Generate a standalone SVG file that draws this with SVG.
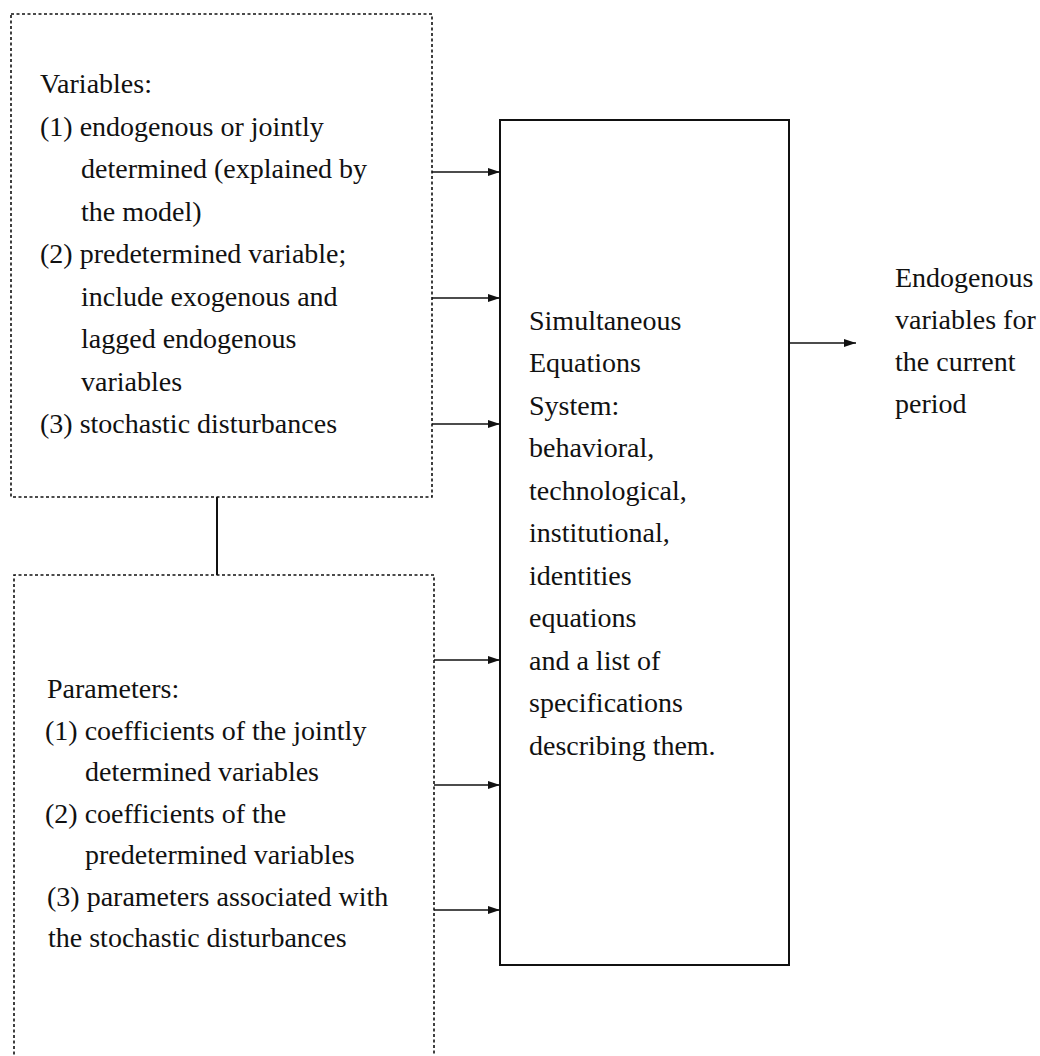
<svg xmlns="http://www.w3.org/2000/svg" width="1040" height="1056" viewBox="0 0 1040 1056">
  <style>
    .dotted { fill: none; stroke: #111; stroke-width: 1.6; stroke-dasharray: 3 2.5; }
    .solid { fill: none; stroke: #111; stroke-width: 2; }
    .link { fill: none; stroke: #111; stroke-width: 1.6; }
    text { font-family: "Liberation Serif", "Times New Roman", serif; font-size: 28px; fill: #111; }
  </style>
  <defs>
    <marker id="arrow" viewBox="0 0 12 8" refX="12" refY="4" markerWidth="12" markerHeight="8" markerUnits="userSpaceOnUse" orient="auto">
      <path d="M0,0 L12,4 L0,8 Z" fill="#111"/>
    </marker>
  </defs>
  <rect width="1040" height="1056" fill="#fff"/>

  <!-- Variables box -->
  <g id="variables">
    <rect class="dotted" x="11" y="14" width="421" height="483"/>
    <text x="40" y="93">Variables:</text>
    <text x="40" y="135.5">(1) endogenous or jointly</text>
    <text x="81" y="178">determined (explained by</text>
    <text x="81" y="220.5">the model)</text>
    <text x="40" y="263">(2) predetermined variable;</text>
    <text x="81" y="305.5">include exogenous and</text>
    <text x="81" y="348">lagged endogenous</text>
    <text x="81" y="390.5">variables</text>
    <text x="40" y="433">(3) stochastic disturbances</text>
  </g>

  <!-- Parameters box (open at the bottom edge of the page) -->
  <g id="parameters">
    <path class="dotted" d="M14,1060 L14,575 L434,575 L434,1060"/>
    <text x="47" y="698">Parameters:</text>
    <text x="45" y="739.5">(1) coefficients of the jointly</text>
    <text x="85" y="781">determined variables</text>
    <text x="45" y="822.5">(2) coefficients of the</text>
    <text x="85" y="864">predetermined variables</text>
    <text x="47" y="905.5">(3) parameters associated with</text>
    <text x="48" y="947">the stochastic disturbances</text>
  </g>

  <!-- Equations system box -->
  <g id="system">
    <rect class="solid" x="500" y="120" width="289" height="845"/>
    <text x="529" y="329.5">Simultaneous</text>
    <text x="529" y="372">Equations</text>
    <text x="529" y="414.5">System:</text>
    <text x="529" y="457">behavioral,</text>
    <text x="529" y="499.5">technological,</text>
    <text x="529" y="542">institutional,</text>
    <text x="529" y="584.5">identities</text>
    <text x="529" y="627">equations</text>
    <text x="529" y="669.5">and a list of</text>
    <text x="529" y="712">specifications</text>
    <text x="529" y="754.5">describing them.</text>
  </g>

  <!-- Output label -->
  <g id="output">
    <text x="895" y="287">Endogenous</text>
    <text x="895" y="329">variables for</text>
    <text x="895" y="371">the current</text>
    <text x="895" y="413">period</text>
  </g>

  <!-- Connectors -->
  <g id="connectors">
    <line class="solid" x1="217" y1="497" x2="217" y2="575"/>
    <line class="link" x1="432" y1="172" x2="500" y2="172" marker-end="url(#arrow)"/>
    <line class="link" x1="432" y1="298" x2="500" y2="298" marker-end="url(#arrow)"/>
    <line class="link" x1="432" y1="424" x2="500" y2="424" marker-end="url(#arrow)"/>
    <line class="link" x1="434" y1="660" x2="500" y2="660" marker-end="url(#arrow)"/>
    <line class="link" x1="434" y1="785" x2="500" y2="785" marker-end="url(#arrow)"/>
    <line class="link" x1="434" y1="910" x2="500" y2="910" marker-end="url(#arrow)"/>
    <line class="link" x1="789" y1="343" x2="856" y2="343" marker-end="url(#arrow)"/>
  </g>
</svg>
